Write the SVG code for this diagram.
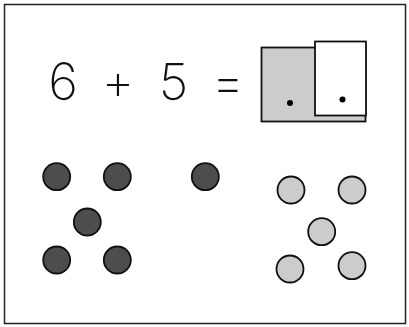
<svg xmlns="http://www.w3.org/2000/svg" width="409" height="327" viewBox="0 0 409 327">
<style>
.frame{fill:#fff;stroke:#222;stroke-width:1.5}
.card{stroke:#111;stroke-width:1.8}
.dark{fill:#4d4d4d;stroke:#111;stroke-width:1.8}
.light{fill:#cccccc;stroke:#111;stroke-width:1.8}
.num{font-family:Inter,"DejaVu Sans",sans-serif;font-weight:200;font-size:51px;fill:#111}
</style>
<rect class="frame" x="4.5" y="4.5" width="401" height="319"/>
<g id="equation">
<text class="num" x="63" y="100" text-anchor="middle">6</text>
<text class="num" x="118" y="100" text-anchor="middle">+</text>
<text class="num" x="173.5" y="100" text-anchor="middle">5</text>
<text class="num" x="228" y="100" text-anchor="middle">=</text>
</g>
<g id="answer">
<rect class="card" x="261.5" y="47.5" width="104" height="74" fill="#cccccc"/>
<circle cx="290" cy="103" r="3" fill="#000"/>
<rect class="card" x="315" y="41.5" width="51" height="74" fill="#fff"/>
<circle cx="342.5" cy="99.5" r="3" fill="#000"/>
</g>
<g id="dark-dots">
<circle class="dark" cx="56.7" cy="176.7" r="13.5"/>
<circle class="dark" cx="117.3" cy="176.7" r="13.5"/>
<circle class="dark" cx="205.3" cy="176.7" r="13.5"/>
<circle class="dark" cx="87.3" cy="222" r="13.5"/>
<circle class="dark" cx="56.7" cy="260" r="13.5"/>
<circle class="dark" cx="117.3" cy="260" r="13.5"/>
</g>
<g id="light-dots">
<circle class="light" cx="291" cy="190" r="13.5"/>
<circle class="light" cx="352" cy="190" r="13.5"/>
<circle class="light" cx="321.7" cy="231.7" r="13.5"/>
<circle class="light" cx="290" cy="269" r="13.5"/>
<circle class="light" cx="352" cy="265.7" r="13.5"/>
</g>
</svg>
